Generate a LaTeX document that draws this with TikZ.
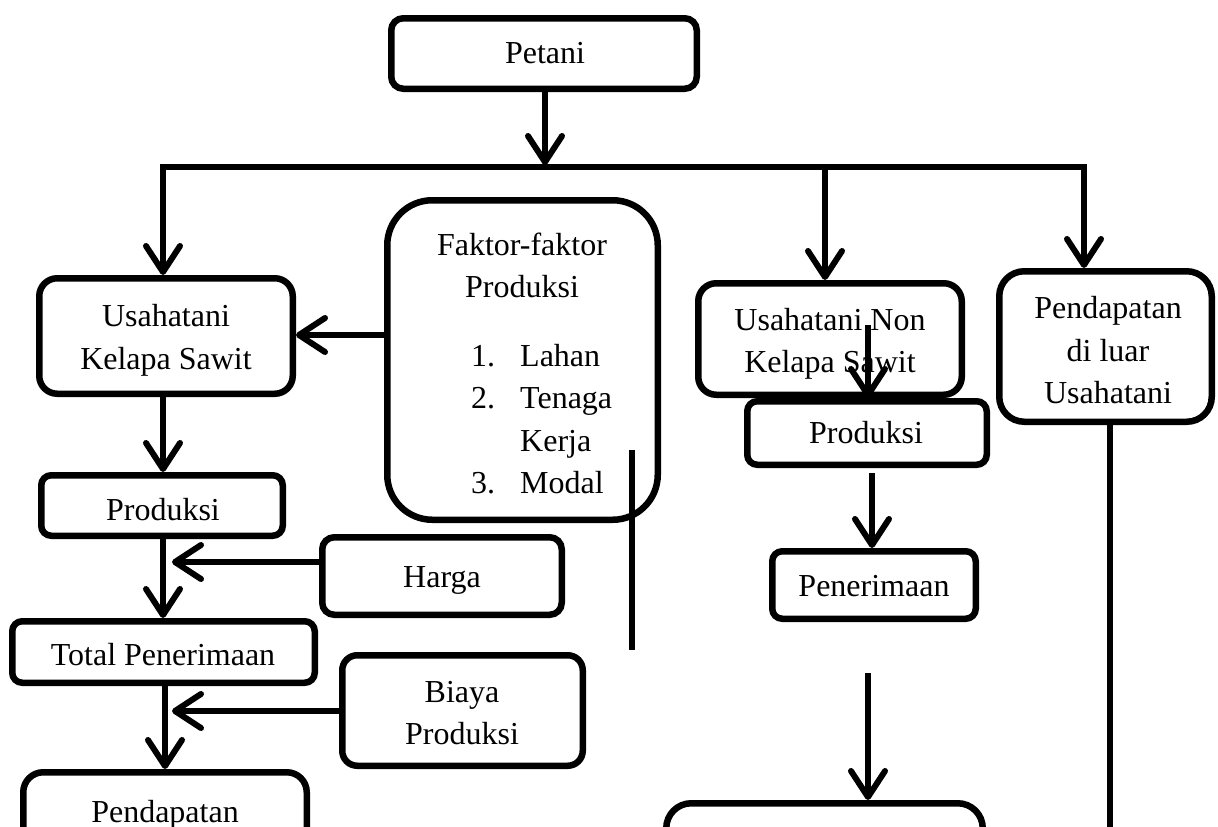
\documentclass[tikz,border=0pt]{standalone}
\usepackage{fontspec}
\setmainfont{Liberation Serif}
\usetikzlibrary{arrows.meta,calc}
\begin{document}
\begin{tikzpicture}[x=1pt,y=-1pt,
  box/.style={draw=black, fill=white, line width=6.5pt, inner sep=0pt, outer sep=3.25pt},
  txt/.style={font=\fontsize{32}{42}\selectfont, inner sep=0pt, anchor=base},
  ln/.style={line width=6pt},
  arr/.style={line width=6pt, -{Straight Barb[length=26pt,width=34pt,round]}}]
\useasboundingbox (0,0) rectangle (1218,827);
\fill[white] (0,0) rectangle (1218,827);
\clip (0,0) rectangle (1218,827);

% boxes
\node[box, rounded corners=12pt, minimum width=305.5pt, minimum height=70.5pt] (petani) at (544,53.5) {};
\node[box, rounded corners=18pt, minimum width=253.5pt, minimum height=115.5pt] (usk) at (166,336) {};
\node[box, rounded corners=45pt, minimum width=270.5pt, minimum height=319.5pt] (fak) at (522.5,360) {};
\node[box, rounded corners=10pt, minimum width=241.5pt, minimum height=60.5pt] (prodL) at (162,505.5) {};
\node[box, rounded corners=12pt, minimum width=239.5pt, minimum height=77.5pt] (harga) at (442,576) {};
\node[box, rounded corners=10pt, minimum width=302.5pt, minimum height=61.5pt] (total) at (163.5,652) {};
\node[box, rounded corners=15pt, minimum width=240.5pt, minimum height=110.5pt] (biaya) at (462.5,710.5) {};
\node[box, rounded corners=20pt, minimum width=283.5pt, minimum height=124.5pt] (pendL) at (165,834.5) {};
\node[box, rounded corners=18pt, minimum width=263.5pt, minimum height=111.5pt] (usnk) at (830,339) {};
\node[box, rounded corners=10pt, minimum width=239.5pt, minimum height=63.5pt] (prodR) at (867,433) {};
\node[box, rounded corners=25pt, minimum width=212.5pt, minimum height=150.5pt] (pdl) at (1105.5,346.5) {};
\node[box, rounded corners=10pt, minimum width=203.5pt, minimum height=67.5pt] (pener) at (874,585) {};
\node[box, rounded corners=25pt, minimum width=316.5pt, minimum height=93.5pt] (pendR) at (824.5,850) {};

% texts
\node[txt] (tpetani) at (545,63) {Petani};
\node[txt] (tusk1) at (166,326) {Usahatani};
\node[txt] (tusk2) at (166,369) {Kelapa Sawit};
\node[txt] (tfak1) at (522,255) {Faktor-faktor};
\node[txt] (tfak2) at (522,297) {Produksi};
\node[txt, anchor=base west] (n1) at (471,366) {1.};
\node[txt, anchor=base west] (i1) at (520,366) {Lahan};
\node[txt, anchor=base west] (n2) at (471,408) {2.};
\node[txt, anchor=base west] (i2) at (520,408) {Tenaga};
\node[txt, anchor=base west] (i2b) at (520,451) {Kerja};
\node[txt, anchor=base west] (n3) at (471,493) {3.};
\node[txt, anchor=base west] (i3) at (520,493) {Modal};
\node[txt] (tprodL) at (163,520) {Produksi};
\node[txt] (tharga) at (442,587) {Harga};
\node[txt] (ttotal) at (163,665) {Total Penerimaan};
\node[txt] (tbiaya1) at (462,702) {Biaya};
\node[txt] (tbiaya2) at (462,744) {Produksi};
\node[txt] (tpendL) at (165,822) {Pendapatan};
\node[txt] (tusnk1) at (830,330) {Usahatani Non};
\node[txt] (tusnk2) at (830,372) {Kelapa Sawit};
\node[txt] (tprodR) at (866,443) {Produksi};
\node[txt] (tpdl1) at (1108,318) {Pendapatan};
\node[txt] (tpdl2) at (1108,361) {di luar};
\node[txt] (tpdl3) at (1108,403) {Usahatani};
\node[txt] (tpener) at (874,596) {Penerimaan};

% coordinates
\coordinate (barL) at (163,167);
\coordinate (barR) at (1084,167);
\coordinate (barM) at (545,165);
\coordinate (drop2) at (825,167);
\coordinate (hp) at (172,562);
\coordinate (bp) at (172,711);
\coordinate (fl1) at (632,450);
\coordinate (fl2) at (632,650);
\coordinate (ua) at (868,325);
\coordinate (pa) at (868,673);
\coordinate (rl) at (1110,840);

% connectors
\draw[ln, line cap=rect] (barL) -- (barR);
\draw[arr] (petani.south -| barM) -- (barM);
\draw[arr] (barL) -- (barL |- usk.north);
\draw[arr] (drop2) -- (drop2 |- usnk.north);
\draw[arr] (barR) -- (barR |- pdl.north);
\draw[arr] (fak.west |- 0,335) -- (usk.east |- 0,335);
\draw[ln] (fl1) -- (fl2);
\draw[arr] (163,0 |- usk.south) -- (163,0 |- prodL.north);
\draw[arr] (163,0 |- prodL.south) -- (163,0 |- total.north);
\draw[arr] (hp -| harga.west) -- (hp);
\draw[arr] (165,0 |- total.south) -- (165,0 |- pendL.north);
\draw[arr] (bp -| biaya.west) -- (bp);
\draw[arr] (ua) -- (ua |- prodR.north);
\draw[arr] (872,473) -- (872,0 |- pener.north);
\draw[arr] (pa) -- (pa |- pendR.north);
\draw[ln] (rl |- pdl.south) -- (rl);
\end{tikzpicture}
\end{document}
